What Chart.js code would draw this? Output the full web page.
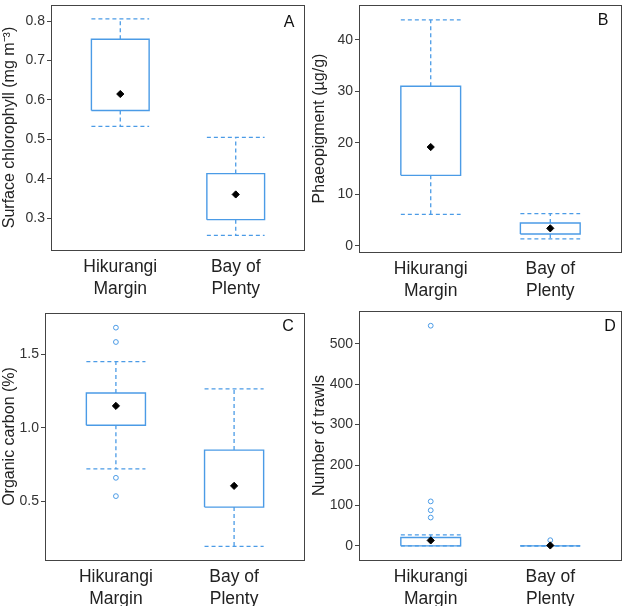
<!DOCTYPE html>
<html>
<head>
<meta charset="utf-8">
<script src="https://cdn.jsdelivr.net/npm/chart.js@4.4.0/dist/chart.umd.min.js"></script>
<style>
  body { margin: 0; background: #fff; }
  #wrap { position: relative; width: 627px; height: 606px; }
  canvas { position: absolute; }
</style>
</head>
<body>
<div id="wrap">
  <canvas id="panel-a" width="313" height="300" style="left:0;top:0"></canvas>
  <canvas id="panel-b" width="317" height="300" style="left:310px;top:0"></canvas>
  <canvas id="panel-c" width="313" height="306" style="left:0;top:300px"></canvas>
  <canvas id="panel-d" width="317" height="306" style="left:310px;top:300px"></canvas>
</div>
<script>
// categories shared by all four panels
const categories = [['Hikurangi', 'Margin'], ['Bay of', 'Plenty']];

// A - surface chlorophyll
const chlQ1 = [0.573, 0.296];
const chlQ3 = [0.754, 0.413];
const chlLow = [0.533, 0.256];
const chlHigh = [0.806, 0.505];
const chlMean = [0.615, 0.360];
const chlOutliers = [[], []];
const chlTicks = [0.3, 0.4, 0.5, 0.6, 0.7, 0.8];

// B - phaeopigment
const phQ1 = [13.7, 2.3];
const phQ3 = [31.0, 4.45];
const phLow = [6.1, 1.35];
const phHigh = [43.9, 6.25];
const phMean = [19.2, 3.4];
const phOutliers = [[], []];
const phTicks = [0, 10, 20, 30, 40];

// C - organic carbon
const ocQ1 = [1.018, 0.459];
const ocQ3 = [1.238, 0.848];
const ocLow = [0.72, 0.191];
const ocHigh = [1.452, 1.266];
const ocMean = [1.15, 0.604];
const ocOutliers = [[1.684, 1.586, 0.659, 0.534], []];
const ocTicks = [0.5, 1.0, 1.5];

// D - number of trawls
const trQ1 = [0, 0];
const trQ3 = [20.8, 0];
const trLow = [0, 0];
const trHigh = [27, 0];
const trMean = [13.4, 1];
const trOutliers = [[544.6, 110, 88, 70], [14]];
const trTicks = [0, 100, 200, 300, 400, 500];

const BLUE = '#4b9be6';
const FRAME = '#444';
const HALF = 0.25;
const FONT = '"Liberation Sans", Arial, sans-serif';

document.addEventListener('DOMContentLoaded', function() {
    initPanel('panel-a', {
        letter: 'A', title: 'Surface chlorophyll (mg m\u207B\u00B3)',
        q1: chlQ1, q3: chlQ3, low: chlLow, high: chlHigh, mean: chlMean, outliers: chlOutliers,
        ticks: chlTicks, decimals: 1, yMin: 0.219, yMax: 0.841,
        area: { left: 51, right: 305, top: 2, bottom: 250 }, letterPos: [16, 18]
    });
    initPanel('panel-b', {
        letter: 'B', title: 'Phaeopigment (\u00B5g/g)',
        q1: phQ1, q3: phQ3, low: phLow, high: phHigh, mean: phMean, outliers: phOutliers,
        ticks: phTicks, decimals: 0, yMin: -1.2, yMax: 46.8,
        area: { left: 49, right: 312, top: 4, bottom: 252 }, letterPos: [19, 16]
    });
    initPanel('panel-c', {
        letter: 'C', title: 'Organic carbon (%)',
        q1: ocQ1, q3: ocQ3, low: ocLow, high: ocHigh, mean: ocMean, outliers: ocOutliers,
        ticks: ocTicks, decimals: 1, yMin: 0.098, yMax: 1.784,
        area: { left: 45, right: 305, top: 13, bottom: 260 }, letterPos: [17, 14]
    });
    initPanel('panel-d', {
        letter: 'D', title: 'Number of trawls',
        q1: trQ1, q3: trQ3, low: trLow, high: trHigh, mean: trMean, outliers: trOutliers,
        ticks: trTicks, decimals: 0, yMin: -35, yMax: 581,
        area: { left: 49, right: 312, top: 11, bottom: 260 }, letterPos: [12, 16]
    });
});

function segment(points, dashed, width) {
    return {
        type: 'line',
        data: points,
        showLine: true,
        borderColor: BLUE,
        borderWidth: width || 1.3,
        borderDash: dashed ? [4, 3] : [],
        pointRadius: 0,
        fill: false,
        tension: 0,
        order: 3
    };
}

function buildDatasets(p) {
    const sets = [];
    for (let i = 0; i < p.q1.length; i++) {
        const x = i + 1;
        // box
        sets.push(segment([
            { x: x - HALF, y: p.q1[i] }, { x: x + HALF, y: p.q1[i] },
            { x: x + HALF, y: p.q3[i] }, { x: x - HALF, y: p.q3[i] },
            { x: x - HALF, y: p.q1[i] }
        ], false, 1.4));
        // whiskers and caps
        sets.push(segment([{ x: x, y: p.q3[i] }, { x: x, y: p.high[i] }], true));
        sets.push(segment([{ x: x, y: p.q1[i] }, { x: x, y: p.low[i] }], true));
        sets.push(segment([{ x: x - HALF, y: p.high[i] }, { x: x + HALF, y: p.high[i] }], true));
        sets.push(segment([{ x: x - HALF, y: p.low[i] }, { x: x + HALF, y: p.low[i] }], true));
    }
    // outliers
    const outPts = [];
    p.outliers.forEach((vals, i) => vals.forEach(v => outPts.push({ x: i + 1, y: v })));
    sets.push({
        data: outPts,
        pointStyle: 'circle',
        pointRadius: 2.4,
        borderColor: BLUE,
        backgroundColor: '#fff',
        borderWidth: 1,
        order: 2
    });
    // means
    sets.push({
        data: p.mean.map((v, i) => ({ x: i + 1, y: v })),
        pointStyle: 'rectRot',
        pointRadius: 3.6,
        borderColor: '#000',
        backgroundColor: '#000',
        borderWidth: 1,
        order: 1
    });
    return sets;
}

function initPanel(id, p) {
    const canvas = document.getElementById(id);
    const W = canvas.width, H = canvas.height;

    const framePlugin = {
        id: 'frame',
        afterDraw(chart) {
            const a = chart.chartArea;
            const c = chart.ctx;
            c.save();
            c.strokeStyle = FRAME;
            c.lineWidth = 1;
            c.strokeRect(Math.round(a.left) + 0.5, Math.round(a.top) + 0.5,
                Math.round(a.right - a.left) - 1, Math.round(a.bottom - a.top));
            c.fillStyle = '#111';
            c.font = '16px ' + FONT;
            c.textAlign = 'center';
            c.textBaseline = 'middle';
            c.fillText(p.letter, a.right - p.letterPos[0], a.top + p.letterPos[1]);
            c.restore();
        }
    };

    new Chart(canvas.getContext('2d'), {
        type: 'scatter',
        data: { datasets: buildDatasets(p) },
        options: {
            responsive: false,
            animation: false,
            events: [],
            layout: {
                padding: { left: 0, top: p.area.top, right: W - p.area.right, bottom: 0 }
            },
            plugins: {
                legend: { display: false },
                tooltip: { enabled: false }
            },
            scales: {
                x: {
                    type: 'linear',
                    min: 0.4,
                    max: 2.6,
                    afterBuildTicks: s => { s.ticks = categories.map((c, i) => ({ value: i + 1 })); },
                    afterFit: s => {
                        s.height = H - p.area.bottom;
                        s.paddingLeft = 0;
                        s.paddingRight = 0;
                    },
                    grid: { display: false },
                    border: { display: false },
                    ticks: {
                        callback: v => categories[Math.round(v) - 1],
                        font: { family: FONT, size: 17.5, lineHeight: 1.26 },
                        color: '#222',
                        padding: -2,
                        maxRotation: 0,
                        autoSkip: false
                    }
                },
                y: {
                    min: p.yMin,
                    max: p.yMax,
                    afterBuildTicks: s => { s.ticks = p.ticks.map(v => ({ value: v })); },
                    afterFit: s => {
                        s.width = p.area.left;
                        s.paddingTop = 0;
                        s.paddingBottom = 0;
                    },
                    grid: { drawOnChartArea: false, drawTicks: true, tickLength: 4, color: FRAME },
                    border: { display: false },
                    ticks: {
                        callback: v => v.toFixed(p.decimals),
                        font: { family: FONT, size: 14 },
                        color: '#333',
                        padding: 2
                    },
                    title: {
                        display: true,
                        text: p.title,
                        font: { family: FONT, size: 16 },
                        color: '#222',
                        padding: { top: 0, bottom: 0 }
                    }
                }
            }
        },
        plugins: [framePlugin]
    });
}
</script>
</body>
</html>
